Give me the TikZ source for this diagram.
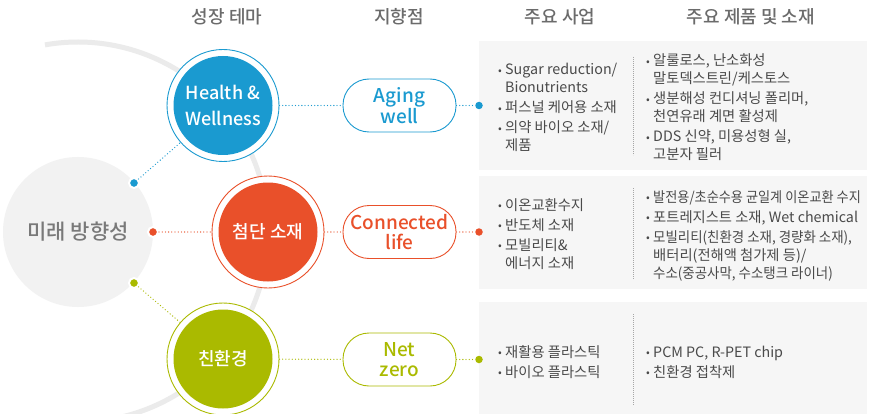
\documentclass[tikz,border=0pt]{standalone}
\usepackage{fontspec}
\setmainfont{Noto Sans CJK KR}
\newfontfamily\medfont{Noto Sans CJK KR}[UprightFont=* Medium]
\usepackage{graphicx}
\definecolor{cblue}{HTML}{1A9AD0}
\definecolor{corange}{HTML}{E9502A}
\definecolor{cgreen}{HTML}{AABA00}
\definecolor{bigfill}{HTML}{F2F2F2}
\definecolor{panelfill}{HTML}{F6F6F6}
\definecolor{arcgray}{HTML}{EBEBEB}
\definecolor{arcfade}{HTML}{F6F6F6}
\definecolor{headgray}{HTML}{6B6B6B}
\definecolor{txtgray}{HTML}{4A4A4A}
\newcommand\bul{\makebox[7pt][l]{\fontsize{11}{11}\selectfont\raisebox{0.6pt}{•}}}
\newcommand\ind{\hspace*{7pt}}
\newcommand\sq[2]{\scalebox{#1}[1]{#2}}
\begin{document}
\begin{tikzpicture}[x=1pt,y=-1pt,
  theme/.style={circle, draw=#1, line width=0.9pt, fill=white, minimum size=112pt, inner sep=0pt,
    text=white, font=\medfont\fontsize{18}{26}\selectfont, align=center,
    path picture={\fill[#1] (path picture bounding box.center) circle (49.5pt);}},
  pill/.style={rectangle, rounded corners=26pt, minimum width=113pt, minimum height=53pt, inner sep=0pt,
    draw=#1, line width=0.9pt, fill=white, text=#1, font=\medfont\fontsize{19}{20.5}\selectfont, align=center},
  conn/.style={draw=#1, line width=1.3pt, dash pattern=on 0pt off 3.2pt, line cap=round},
  ringdot/.style={circle, draw=white, line width=2pt, fill=#1, minimum size=10pt, inner sep=0pt},
  pdot/.style={circle, fill=#1, minimum size=7.5pt, inner sep=0pt},
  head/.style={text=headgray, font=\medfont\fontsize{18}{20}\selectfont},
  coltext/.style={text=txtgray, font=\fontsize{14.3}{18}\selectfont, inner sep=0pt, anchor=base west},
  panel/.style={fill=panelfill},
  sepline/.style={draw=gray!70, line width=0.6pt, dash pattern=on 0.8pt off 1.2pt}
]
\useasboundingbox (0,0) rectangle (874,414);
\clip (0,0) rectangle (874,414);
\fill[white] (0,0) rectangle (874,414);

% headers
\node[head] (h1) at (227,17) {성장 테마};
\node[head] (h2) at (399,17) {지향점};
\node[head] (h3) at (560,17) {주요 사업};
\node[head] (h4) at (751,17) {주요 제품 및 소재};

% panels
\fill[panel] (479,41) rectangle (867,170);
\fill[panel] (479,176) rectangle (867,289);
\fill[panel] (479,302) rectangle (867,414);
\draw[sepline] (633,57) -- (633,155);
\draw[sepline] (633,188) -- (633,279);
\draw[sepline] (633,314) -- (633,405);

% big arc
\draw[arcfade, line width=5pt] (78,232) ++(96:190) arc[start angle=96, end angle=90, radius=190];
\draw[arcgray, line width=5pt] (78,232) ++(90:190) arc[start angle=90, end angle=-100, radius=190];

% big circle
\node[circle, fill=bigfill, minimum size=150pt, inner sep=0pt, text=gray!95!black,
  font=\medfont\fontsize{21}{24}\selectfont] (big) at (78,232) {미래 방향성};

% theme circles
\node[theme=cblue] (t1) at (223,105.5) {Health \&\\Wellness};
\node[theme=corange] (t2) at (268,232) {첨단 소재};
\node[theme=cgreen] (t3) at (223,359) {친환경};

% pills
\node[pill=cblue] (p1) at (399.5,105.5) {Aging\\well};
\node[pill=corange] (p2) at (399.5,232) {Connected\\life};
\node[pill=cgreen] (p3) at (399.5,359.5) {Net\\zero};

% dots on big circle
\node[ringdot=cblue] (d1) at (134,183) {};
\node[ringdot=corange] (d2) at (153,232) {};
\node[ringdot=cgreen] (d3) at (134,283) {};

% panel dots
\node[pdot=cblue] (e1) at (479,105.5) {};
\node[pdot=corange] (e2) at (479,232) {};
\node[pdot=cgreen] (e3) at (479,359.5) {};

% connectors
\draw[conn=cblue] (d1) -- (t1);
\draw[conn=corange] (d2) -- (t2);
\draw[conn=cgreen] (d3) -- (t3);
\draw[conn=cblue] (t1) -- (p1);
\draw[conn=corange] (t2) -- (p2);
\draw[conn=cgreen] (t3) -- (p3);
\draw[conn=cblue] (p1) -- (e1);
\draw[conn=corange] (p2) -- (e2);
\draw[conn=cgreen] (p3) -- (e3);

% panel texts
\node[coltext] (a1) at (498,75) {\begin{tabular}[t]{@{}l@{}}
\bul Sugar reduction/\\
\ind Bionutrients\\[2pt]
\bul 퍼스널 케어용 소재\\[2pt]
\bul 의약 바이오 소재/\\
\ind 제품
\end{tabular}};
\node[coltext] (b1) at (646,66) {\begin{tabular}[t]{@{}l@{}}
\bul 알룰로스, 난소화성\\
\ind 말토덱스트린/케스토스\\[2pt]
\bul 생분해성 컨디셔닝 폴리머,\\
\ind 천연유래 계면 활성제\\[2pt]
\bul DDS 신약, 미용성형 실,\\
\ind 고분자 필러
\end{tabular}};
\node[coltext] (a2) at (498,210) {\begin{tabular}[t]{@{}l@{}}
\bul 이온교환수지\\[2pt]
\bul 반도체 소재\\[2pt]
\bul 모빌리티\&\\
\ind 에너지 소재
\end{tabular}};
\node[coltext] (b2) at (646,202) {\begin{tabular}[t]{@{}l@{}}
\bul \sq{0.92}{발전용/초순수용 균일계 이온교환 수지}\\[2pt]
\bul 포트레지스트 소재, Wet chemical\\[2pt]
\bul \sq{0.94}{모빌리티(친환경 소재, 경량화 소재),}\\
\ind 배터리(전해액 첨가제 등)/\\
\ind \sq{0.94}{수소(중공사막, 수소탱크 라이너)}
\end{tabular}};
\node[coltext] (a3) at (498,357) {\begin{tabular}[t]{@{}l@{}}
\bul 재활용 플라스틱\\[2pt]
\bul 바이오 플라스틱
\end{tabular}};
\node[coltext] (b3) at (646,357) {\begin{tabular}[t]{@{}l@{}}
\bul PCM PC, R-PET chip\\[2pt]
\bul 친환경 접착제
\end{tabular}};
\end{tikzpicture}
\end{document}
